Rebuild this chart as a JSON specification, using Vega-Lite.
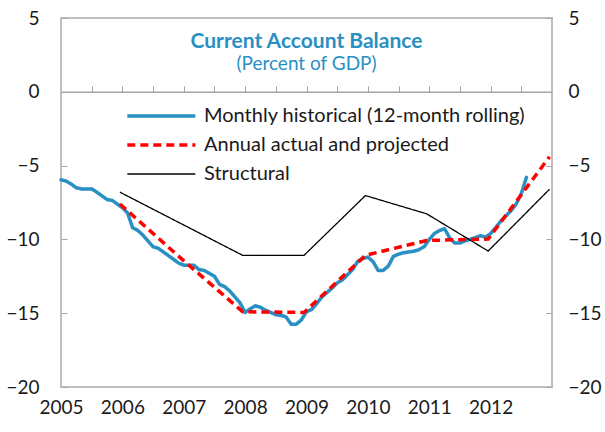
{
  "$schema": "https://vega.github.io/schema/vega-lite/v6.json",
  "width": 491,
  "height": 369,
  "autosize": "none",
  "padding": {"left": 61, "top": 18, "right": 53, "bottom": 45},
  "background": "white",
  "title": {
    "text": "Current Account Balance",
    "subtitle": "(Percent of GDP)",
    "anchor": "middle",
    "orient": "top",
    "offset": -65,
    "font": "Lato",
    "fontSize": 21,
    "fontWeight": "bold",
    "color": "#2a8fc2",
    "subtitleFont": "Lato",
    "subtitleFontSize": 19,
    "subtitleColor": "#2a8fc2",
    "subtitlePadding": 3
  },
  "config": {
    "view": {"stroke": "#bfbfbf", "strokeWidth": 2},
    "axis": {"labelFont": "Lato", "labelFontSize": 19, "labelColor": "#1a1a1a", "grid": false, "title": null},
    "legend": {"labelFont": "Lato", "labelFontSize": 20, "labelColor": "#1a1a1a", "labelLimit": 400}
  },
  "datasets": {
    "monthly": [
      {"year": 2005.0, "value": -5.97}, {"year": 2005.0833, "value": -6.05}, {"year": 2005.1667, "value": -6.25}, {"year": 2005.25, "value": -6.5},
      {"year": 2005.3333, "value": -6.58}, {"year": 2005.4167, "value": -6.58}, {"year": 2005.5, "value": -6.58}, {"year": 2005.5833, "value": -6.8},
      {"year": 2005.6667, "value": -7.05}, {"year": 2005.75, "value": -7.3}, {"year": 2005.8333, "value": -7.36}, {"year": 2005.9167, "value": -7.6},
      {"year": 2006.0, "value": -7.85}, {"year": 2006.0833, "value": -8.2}, {"year": 2006.1667, "value": -9.2}, {"year": 2006.25, "value": -9.39},
      {"year": 2006.3333, "value": -9.7}, {"year": 2006.4167, "value": -10.1}, {"year": 2006.5, "value": -10.5}, {"year": 2006.5833, "value": -10.6},
      {"year": 2006.6667, "value": -10.85}, {"year": 2006.75, "value": -11.1}, {"year": 2006.8333, "value": -11.35}, {"year": 2006.9167, "value": -11.6},
      {"year": 2007.0, "value": -11.75}, {"year": 2007.0833, "value": -11.75}, {"year": 2007.1667, "value": -11.75}, {"year": 2007.25, "value": -12.05},
      {"year": 2007.3333, "value": -12.1}, {"year": 2007.4167, "value": -12.3}, {"year": 2007.5, "value": -12.5}, {"year": 2007.5833, "value": -13.05},
      {"year": 2007.6667, "value": -13.2}, {"year": 2007.75, "value": -13.5}, {"year": 2007.8333, "value": -13.9}, {"year": 2007.9167, "value": -14.3},
      {"year": 2008.0, "value": -14.95}, {"year": 2008.0833, "value": -14.7}, {"year": 2008.1667, "value": -14.5}, {"year": 2008.25, "value": -14.6},
      {"year": 2008.3333, "value": -14.8}, {"year": 2008.4167, "value": -14.95}, {"year": 2008.5, "value": -15.1}, {"year": 2008.5833, "value": -15.15},
      {"year": 2008.6667, "value": -15.25}, {"year": 2008.75, "value": -15.75}, {"year": 2008.8333, "value": -15.75}, {"year": 2008.9167, "value": -15.45},
      {"year": 2009.0, "value": -14.9}, {"year": 2009.0833, "value": -14.75}, {"year": 2009.1667, "value": -14.35}, {"year": 2009.25, "value": -13.9},
      {"year": 2009.3333, "value": -13.6}, {"year": 2009.4167, "value": -13.3}, {"year": 2009.5, "value": -12.95}, {"year": 2009.5833, "value": -12.75},
      {"year": 2009.6667, "value": -12.4}, {"year": 2009.75, "value": -12.05}, {"year": 2009.8333, "value": -11.5}, {"year": 2009.9167, "value": -11.3},
      {"year": 2010.0, "value": -11.2}, {"year": 2010.0833, "value": -11.5}, {"year": 2010.1667, "value": -12.1}, {"year": 2010.25, "value": -12.1},
      {"year": 2010.3333, "value": -11.8}, {"year": 2010.4167, "value": -11.15}, {"year": 2010.5, "value": -11.0}, {"year": 2010.5833, "value": -10.9},
      {"year": 2010.6667, "value": -10.85}, {"year": 2010.75, "value": -10.8}, {"year": 2010.8333, "value": -10.7}, {"year": 2010.9167, "value": -10.5},
      {"year": 2011.0, "value": -10.0}, {"year": 2011.0833, "value": -9.6}, {"year": 2011.1667, "value": -9.4}, {"year": 2011.25, "value": -9.28},
      {"year": 2011.3333, "value": -9.9}, {"year": 2011.4167, "value": -10.25}, {"year": 2011.5, "value": -10.25}, {"year": 2011.5833, "value": -10.1},
      {"year": 2011.6667, "value": -10.0}, {"year": 2011.75, "value": -9.88}, {"year": 2011.8333, "value": -9.75}, {"year": 2011.9167, "value": -9.85},
      {"year": 2012.0, "value": -9.6}, {"year": 2012.0833, "value": -9.2}, {"year": 2012.1667, "value": -8.75}, {"year": 2012.25, "value": -8.4},
      {"year": 2012.3333, "value": -8.05}, {"year": 2012.4167, "value": -7.6}, {"year": 2012.5, "value": -6.9}, {"year": 2012.5833, "value": -5.8}
    ],
    "annual": [
      {"year": 2005.96, "value": -7.6}, {"year": 2006.96, "value": -11.3}, {"year": 2007.96, "value": -14.9}, {"year": 2008.96, "value": -14.95},
      {"year": 2009.96, "value": -11.08}, {"year": 2010.96, "value": -10.07}, {"year": 2011.96, "value": -9.98}, {"year": 2012.96, "value": -4.4}
    ],
    "structural": [
      {"year": 2005.96, "value": -6.8}, {"year": 2006.96, "value": -8.94}, {"year": 2007.96, "value": -11.08}, {"year": 2008.96, "value": -11.08},
      {"year": 2009.96, "value": -7.03}, {"year": 2010.96, "value": -8.27}, {"year": 2011.96, "value": -10.79}, {"year": 2012.96, "value": -6.6}
    ]
  },
  "resolve": {"axis": {"x": "independent", "y": "independent"}},
  "layer": [
    {
      "data": {"name": "monthly"},
      "transform": [{"calculate": "'Monthly historical (12-month rolling)'", "as": "series"}],
      "mark": {"type": "line", "strokeWidth": 3.5, "strokeCap": "round", "strokeJoin": "round"},
      "encoding": {
        "x": {"field": "year", "type": "quantitative", "scale": {"domain": [2005, 2013], "nice": false, "zero": false},
          "axis": {"orient": "top", "offset": -73.8, "values": [2005.5, 2006, 2006.5, 2007, 2007.5, 2008, 2008.5, 2009, 2009.5, 2010, 2010.5, 2011, 2011.5, 2012, 2012.5], "labels": false, "tickSize": 6, "tickColor": "#a6a6a6", "domainColor": "#a6a6a6", "domainWidth": 1.5, "tickWidth": 1}},
        "y": {"field": "value", "type": "quantitative", "scale": {"domain": [-20, 5], "nice": false},
          "axis": {"orient": "left", "values": [-20, -15, -10, -5, 0, 5], "domain": false, "tickSize": -6, "tickColor": "#a6a6a6", "labelPadding": 28}},
        "color": {"field": "series", "type": "nominal",
          "scale": {"domain": ["Monthly historical (12-month rolling)", "Annual actual and projected", "Structural"], "range": ["#2a90c3", "#ff0000", "#000000"]},
          "legend": {"title": null, "orient": "none", "legendX": 113, "legendY": 88, "symbolType": "M-5,0H1", "symbolSize": 514, "labelOffset": 10, "rowPadding": 9,
            "encode": {"symbols": {"update": {"strokeWidth": {"signal": "datum.label === 'Structural' ? 1.3 : 3.5"}}}}}},
        "strokeDash": {"field": "series", "type": "nominal",
          "scale": {"domain": ["Monthly historical (12-month rolling)", "Annual actual and projected", "Structural"], "range": [[1, 0], [8, 5], [1, 0]]}}
      }
    },
    {
      "data": {"name": "structural"},
      "transform": [{"calculate": "'Structural'", "as": "series"}],
      "mark": {"type": "line", "strokeWidth": 1.3},
      "encoding": {
        "x": {"field": "year", "type": "quantitative", "axis": null},
        "y": {"field": "value", "type": "quantitative", "axis": null},
        "color": {"field": "series", "type": "nominal"},
        "strokeDash": {"field": "series", "type": "nominal"}
      }
    },
    {
      "data": {"name": "annual"},
      "transform": [{"calculate": "'Annual actual and projected'", "as": "series"}],
      "mark": {"type": "line", "strokeWidth": 3.5},
      "encoding": {
        "x": {"field": "year", "type": "quantitative",
          "axis": {"orient": "bottom", "values": [2005, 2006, 2007, 2008, 2009, 2010, 2011, 2012], "format": "d", "domain": false, "ticks": false, "labelPadding": 11, "labelFlush": false, "labelOverlap": false}},
        "y": {"field": "value", "type": "quantitative",
          "axis": {"orient": "right", "values": [-20, -15, -10, -5, 0, 5], "domain": false, "tickSize": -6, "tickColor": "#a6a6a6", "labelPadding": 22}},
        "color": {"field": "series", "type": "nominal"},
        "strokeDash": {"field": "series", "type": "nominal"}
      }
    }
  ]
}
